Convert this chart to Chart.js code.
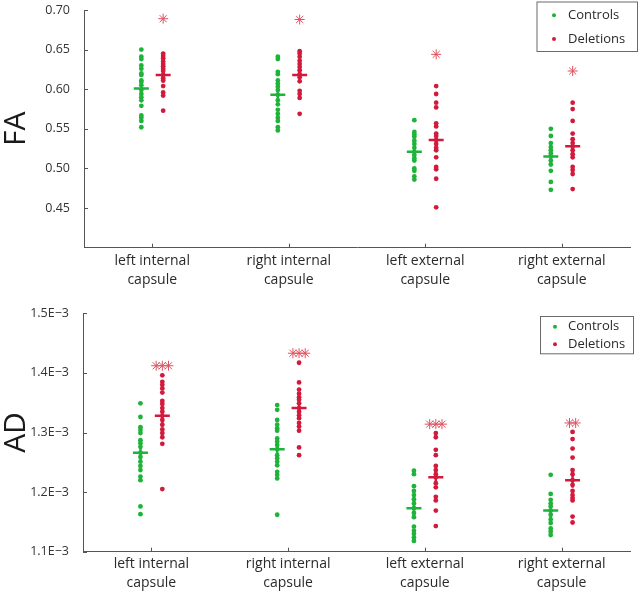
<!DOCTYPE html>
<html><head><meta charset="utf-8">
<script src="https://cdn.jsdelivr.net/npm/chart.js@4.4.1/dist/chart.umd.min.js"></script>
<style>
html,body{margin:0;padding:0;background:#fff;}
.wrap{position:relative;width:640px;}
canvas{display:block;}
</style></head><body>
<div class="wrap" style="height:300px"><canvas id="fa" width="640" height="300"></canvas></div>
<div class="wrap" style="height:294px"><canvas id="ad" width="640" height="294"></canvas></div>
<script>
// ---------- DATA ----------
const categories = ['left internal capsule', 'right internal capsule', 'left external capsule', 'right external capsule'];
const seriesNames = ['Controls', 'Deletions'];

// FA panel
const faTickLabels = ['0.45', '0.50', '0.55', '0.60', '0.65', '0.70'];
const faControls = [
  [0.650,0.641,0.638,0.630,0.626,0.620,0.618,0.611,0.609,0.605,0.599,0.594,0.590,0.586,0.579,0.567,0.564,0.560,0.552],
  [0.641,0.638,0.622,0.619,0.611,0.607,0.603,0.599,0.593,0.586,0.581,0.574,0.569,0.564,0.560,0.552,0.548],
  [0.561,0.546,0.543,0.540,0.535,0.531,0.526,0.521,0.517,0.513,0.510,0.500,0.497,0.490,0.486],
  [0.550,0.541,0.532,0.527,0.523,0.519,0.515,0.510,0.505,0.497,0.483,0.473]
];
const faDeletions = [
  [0.645,0.642,0.639,0.635,0.632,0.629,0.626,0.623,0.618,0.614,0.611,0.604,0.596,0.592,0.573],
  [0.648,0.645,0.641,0.636,0.632,0.628,0.624,0.619,0.615,0.610,0.598,0.594,0.589,0.569],
  [0.604,0.594,0.583,0.577,0.557,0.553,0.544,0.541,0.536,0.531,0.526,0.523,0.514,0.502,0.499,0.487,0.451],
  [0.583,0.575,0.560,0.544,0.537,0.532,0.528,0.523,0.518,0.514,0.502,0.498,0.493,0.474]
];
const faMeanControls = [0.601, 0.593, 0.521, 0.515];
const faMeanDeletions = [0.618, 0.618, 0.536, 0.528];
const faSignif = ['*', '*', '*', '*'];
const faSignifY = [0.689, 0.688, 0.644, 0.623];

// AD panel (values in units of 1E-3)
const adTickLabels = ['1.1E\u22123', '1.2E\u22123', '1.3E\u22123', '1.4E\u22123', '1.5E\u22123'];
const adControls = [
  [1.349,1.326,1.309,1.304,1.299,1.287,1.282,1.276,1.266,1.259,1.251,1.244,1.237,1.226,1.220,1.176,1.163],
  [1.346,1.338,1.321,1.313,1.307,1.303,1.290,1.285,1.279,1.272,1.262,1.257,1.251,1.245,1.234,1.229,1.223,1.162],
  [1.236,1.230,1.210,1.202,1.195,1.188,1.181,1.173,1.165,1.158,1.142,1.135,1.130,1.124,1.118],
  [1.229,1.197,1.187,1.181,1.176,1.169,1.162,1.154,1.148,1.139,1.134,1.128]
];
const adDeletions = [
  [1.396,1.385,1.380,1.374,1.367,1.353,1.348,1.341,1.335,1.328,1.321,1.313,1.305,1.299,1.292,1.281,1.205],
  [1.417,1.384,1.372,1.365,1.359,1.355,1.349,1.341,1.335,1.329,1.324,1.316,1.310,1.303,1.275,1.262],
  [1.299,1.292,1.271,1.262,1.244,1.237,1.230,1.225,1.215,1.208,1.192,1.186,1.169,1.143],
  [1.301,1.289,1.273,1.258,1.237,1.230,1.220,1.212,1.202,1.195,1.190,1.186,1.159,1.149]
];
const adMeanControls = [1.266, 1.272, 1.173, 1.169];
const adMeanDeletions = [1.328, 1.341, 1.225, 1.220];
const adSignif = ['***', '***', '***', '**'];
const adSignifY = [1.412, 1.433, 1.314, 1.316];

// ---------- STYLE ----------
const GREEN = '#1fb33a';
const RED = '#d21b3c';
const STAR = '#e0505f';
const AXIS = '#555';
const TXT = '#2a2a2a';
const OFFSET = 0.08;      // horizontal shift of each group's column
const STAR_GAP = 0.045;   // spacing between repeated asterisks

Chart.defaults.font.family = "'Open Sans', 'Noto Sans', sans-serif";
Chart.defaults.color = TXT;

function splitLabel(s) {
  const i = s.lastIndexOf(' ');
  return [s.slice(0, i), s.slice(i + 1)];
}

const inwardTicks = {
  id: 'inwardTicks',
  afterDraw(chart) {
    const {ctx, scales: {x, y}, chartArea: a} = chart;
    ctx.save();
    ctx.strokeStyle = AXIS; ctx.lineWidth = 1;
    ctx.beginPath();
    x.ticks.forEach(t => { const px = Math.round(x.getPixelForValue(t.value)) + 0.5; ctx.moveTo(px, a.bottom); ctx.lineTo(px, a.bottom - 4); });
    y.ticks.forEach(t => { const py = Math.round(y.getPixelForValue(t.value)) + 0.5; ctx.moveTo(a.left, py); ctx.lineTo(a.left + 4, py); });
    ctx.stroke();
    ctx.restore();
  }
};

const boxLegend = {
  id: 'boxLegend',
  afterDraw(chart, args, o) {
    const ctx = chart.ctx;
    const items = chart.data.datasets.filter(d => d.inLegend);
    ctx.save();
    ctx.fillStyle = '#fff';
    ctx.fillRect(o.x, o.y, o.w, o.h);
    ctx.strokeStyle = '#6a6a6a'; ctx.lineWidth = 1;
    ctx.strokeRect(o.x + 0.5, o.y + 0.5, o.w, o.h);
    ctx.font = "13px 'Open Sans', sans-serif";
    ctx.textBaseline = 'middle';
    items.forEach((d, i) => {
      const cy = o.y + o.firstRow + i * o.rowGap;
      ctx.fillStyle = d.backgroundColor;
      ctx.beginPath(); ctx.arc(o.x + o.dotX, cy, 2, 0, Math.PI * 2); ctx.fill();
      ctx.fillStyle = TXT;
      ctx.fillText(d.label, o.x + o.textX, cy);
    });
    ctx.restore();
  }
};

function makePanel(id, p) {
  const groupPts = (groups, off) => groups.flatMap((vals, i) => vals.map(v => ({x: i + 1 + off, y: v})));
  const meanPts = (means, off) => means.map((v, i) => ({x: i + 1 + off, y: v}));
  const starPts = p.signif.flatMap((s, i) => {
    const n = s.length;
    return Array.from({length: n}, (_, k) => ({x: i + 1 + OFFSET + (k - (n - 1) / 2) * STAR_GAP, y: p.signifY[i]}));
  });
  const tickVals = p.tickLabels.map(t => parseFloat(t));
  return new Chart(document.getElementById(id), {
    type: 'scatter',
    data: {
      datasets: [
        {label: seriesNames[0], inLegend: true, data: groupPts(p.controls, -OFFSET), backgroundColor: GREEN, borderWidth: 0, pointRadius: 2.4},
        {label: seriesNames[1], inLegend: true, data: groupPts(p.deletions, OFFSET), backgroundColor: RED, borderWidth: 0, pointRadius: 2.4},
        {label: 'mean ' + seriesNames[0], data: meanPts(p.meanC, -OFFSET), pointStyle: 'cross', pointRadius: 7.5, borderColor: GREEN, borderWidth: 2.5},
        {label: 'mean ' + seriesNames[1], data: meanPts(p.meanD, OFFSET), pointStyle: 'cross', pointRadius: 7.5, borderColor: RED, borderWidth: 2.5},
        {label: 'significance', data: starPts, pointStyle: 'star', pointRadius: 5, borderColor: STAR, borderWidth: 1}
      ]
    },
    options: {
      responsive: false,
      animation: false,
      events: [],
      layout: {padding: {top: p.padTop, right: 4, left: 0, bottom: 0}},
      plugins: {legend: {display: false}, tooltip: {enabled: false}, boxLegend: p.legend},
      scales: {
        x: {
          type: 'linear', min: 0.5, max: 4.5,
          grid: {display: false},
          border: {display: true, color: AXIS, width: 1},
          afterBuildTicks: s => { s.ticks = categories.map((c, i) => ({value: i + 1})); },
          afterFit: s => { s.height = p.xHeight; },
          ticks: {
            autoSkip: false, maxRotation: 0, padding: p.xPad,
            font: {size: 14, lineHeight: 1.36}, color: TXT,
            callback: v => splitLabel(categories[Math.round(v) - 1])
          }
        },
        y: {
          type: 'linear', min: p.min, max: p.max,
          grid: {display: false},
          border: {display: true, color: AXIS, width: 1},
          afterBuildTicks: s => { s.ticks = tickVals.map(v => ({value: v})); },
          afterFit: s => { s.width = p.yWidth; },
          ticks: {
            padding: 6, font: {size: 12.5, lineHeight: 0.55}, color: '#333',
            callback: (v, i) => p.tickLabels[i]
          },
          title: {display: true, text: p.title, font: {size: 30, lineHeight: 1}, color: '#1a1a1a', padding: {top: 1, bottom: 0}}
        }
      }
    },
    plugins: [inwardTicks, boxLegend]
  });
}

makePanel('fa', {
  title: 'FA', min: 0.40, max: 0.70, tickLabels: faTickLabels,
  controls: faControls, deletions: faDeletions, meanC: faMeanControls, meanD: faMeanDeletions,
  signif: faSignif, signifY: faSignifY,
  padTop: 9.5, xHeight: 52.3, yWidth: 84, xPad: -4,
  legend: {x: 536.5, y: 1.5, w: 100.5, h: 49.5, firstRow: 13.8, rowGap: 23.7, dotX: 17.5, textX: 31.5}
});
makePanel('ad', {
  title: 'AD', min: 1.1, max: 1.5, tickLabels: adTickLabels,
  controls: adControls, deletions: adDeletions, meanC: adMeanControls, meanD: adMeanDeletions,
  signif: adSignif, signifY: adSignifY,
  padTop: 13.3, xHeight: 42.3, yWidth: 83, xPad: -5,
  legend: {x: 540, y: 16, w: 93, h: 37.3, firstRow: 10.7, rowGap: 17.6, dotX: 15, textX: 28}
});
</script>
</body></html>
